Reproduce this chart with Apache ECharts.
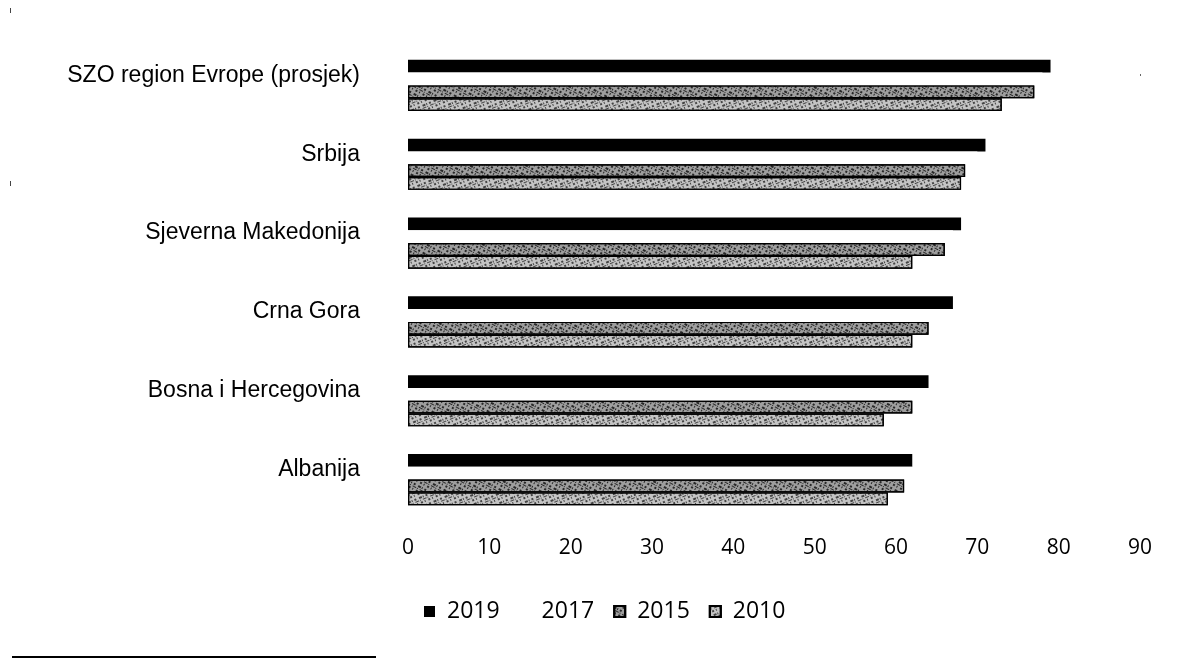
<!DOCTYPE html>
<html>
<head>
<meta charset="utf-8">
<script src="https://cdn.jsdelivr.net/npm/echarts@6/dist/echarts.min.js"></script>
<style>
html,body{margin:0;padding:0;background:#fff;}
#chart{width:1182px;height:661px;}
</style>
</head>
<body>
<div id="chart"></div>
<script>
const categories = ['SZO region Evrope (prosjek)', 'Srbija', 'Sjeverna Makedonija', 'Crna Gora', 'Bosna i Hercegovina', 'Albanija'];
const years = ['2019', '2017', '2015', '2010'];
const values2019 = [79, 71, 68, 67, 64, 62];
const values2017 = [78, 70, 67, 66, 63, 62];
const values2015 = [77, 68.5, 66, 64, 62, 61];
const values2010 = [73, 68, 62, 62, 58.5, 59];
const xTicks = [0, 10, 20, 30, 40, 50, 60, 70, 80, 90];

const chart = echarts.init(document.getElementById('chart'), null, {renderer: 'canvas'});

const texture = (bg, ink, rot) => ({
  color: bg,
  borderColor: '#000',
  borderWidth: 1.2,
  decal: {
    symbol: 'rect',
    symbolSize: 1,
    color: ink,
    dashArrayX: [[3, 1, 1, 2, 2, 3], [1, 2, 4, 1], [2, 2, 1, 3]],
    dashArrayY: [2, 1, 1, 1, 2, 2],
    rotation: rot
  }
});

const option = {
  animation: false,
  backgroundColor: '#fff',
  grid: {left: 408, right: 42, top: 46, height: 473, containLabel: false},
  xAxis: {
    type: 'value', min: xTicks[0], max: xTicks[xTicks.length - 1], interval: 10,
    axisLine: {show: false}, axisTick: {show: false}, splitLine: {show: false},
    axisLabel: {color: '#000', fontFamily: 'Open Sans', fontSize: 21, margin: 19}
  },
  yAxis: {
    type: 'category', inverse: true, data: categories,
    axisLine: {show: false}, axisTick: {show: false}, splitLine: {show: false},
    axisLabel: {color: '#000', fontFamily: 'Liberation Sans', fontSize: 23, margin: 48,
                verticalAlign: 'bottom', lineHeight: 20}
  },
  legend: {
    left: 419, top: 595, itemWidth: 11, itemHeight: 11, itemGap: 19,
    icon: 'rect',
    textStyle: {color: '#000', fontFamily: 'Open Sans', fontSize: 23, padding: [0, 0, 0, 7]},
    data: years
  },
  series: [
    {name: years[0], type: 'bar', data: values2019, barCategoryGap: '35%', barGap: '0%',
     itemStyle: {color: '#000'}},
    {name: years[1], type: 'bar', data: values2017, barGap: '0%',
     itemStyle: {color: '#fff', borderWidth: 0}},
    {name: years[2], type: 'bar', data: values2015, barGap: '0%',
     itemStyle: texture('#9e9e9e', 'rgba(0,0,0,0.75)', 0.5)},
    {name: years[3], type: 'bar', data: values2010, barGap: '0%',
     itemStyle: texture('#c4c4c4', 'rgba(0,0,0,0.65)', -0.4)}
  ],
  graphic: [
    {type: 'rect', shape: {x: 12, y: 656, width: 364, height: 2}, style: {fill: '#000'}},
    {type: 'rect', shape: {x: 10, y: 8, width: 1, height: 5}, style: {fill: '#444'}},
    {type: 'rect', shape: {x: 10, y: 181, width: 1, height: 5}, style: {fill: '#444'}},
    {type: 'rect', shape: {x: 1140, y: 74, width: 1, height: 2}, style: {fill: '#666'}}
  ]
};
chart.setOption(option);
</script>
</body>
</html>
